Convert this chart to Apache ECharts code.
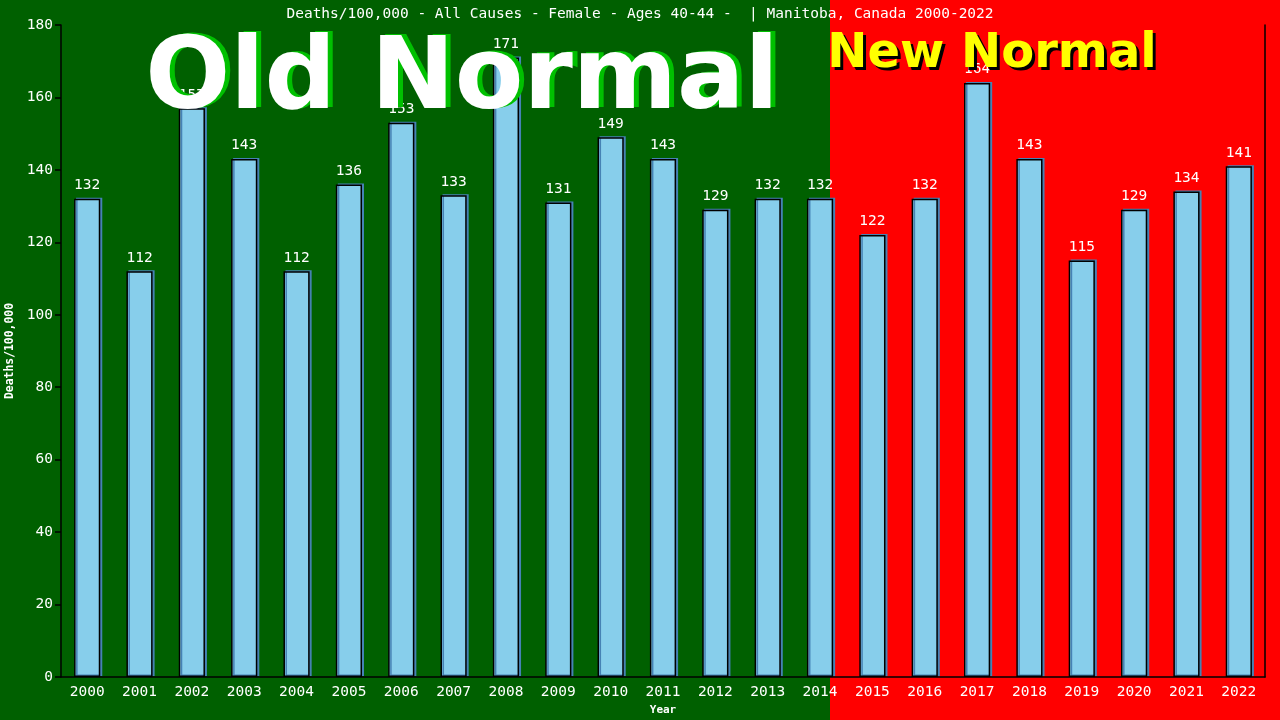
<!DOCTYPE html>
<html>
<head>
<meta charset="utf-8">
<script src="https://cdn.jsdelivr.net/npm/echarts@6/dist/echarts.min.js"></script>
<style>html,body{margin:0;padding:0;background:#006000;}#c{width:1280px;height:720px;}</style>
</head>
<body>
<div id="c"></div>
<script>
const years = ['2000','2001','2002','2003','2004','2005','2006','2007','2008','2009','2010','2011','2012','2013','2014','2015','2016','2017','2018','2019','2020','2021','2022'];
const deaths = [132,112,157,143,112,136,153,133,171,131,149,143,129,132,132,122,132,164,143,115,129,134,141];
const yTicks = {min:0, max:180, interval:20};
const titleText = 'Deaths/100,000 - All Causes - Female - Ages 40-44 -  | Manitoba, Canada 2000-2022';

const mono = 'DejaVu Sans Mono';
const bigFont = 'bold 100px "DejaVu Sans"';
const newFont = 'bold 48px "DejaVu Sans"';
const chart = echarts.init(document.getElementById('c'));
chart.setOption({
  backgroundColor: '#006000',
  animation: false,
  title: {
    text: titleText, left: 'center', top: 2,
    textStyle: {color:'#fff', fontFamily: mono, fontSize: 14.5, fontWeight: 'normal'}
  },
  grid: {left: 61, right: 15, top: 25, bottom: 43, outerBoundsMode: 'none', containLabel: false},
  xAxis: {
    type: 'category', data: years,
    name: 'Year', nameLocation: 'middle', nameGap: 27,
    nameTextStyle: {color:'#fff', fontFamily: mono, fontSize: 11, fontWeight: 'bold'},
    axisLine: {lineStyle: {color:'#000', width: 1.5}},
    axisTick: {show: false},
    axisLabel: {color:'#fff', fontFamily: mono, fontSize: 14.5, margin: 8}
  },
  yAxis: [{
    type: 'value', min: yTicks.min, max: yTicks.max, interval: yTicks.interval,
    name: 'Deaths/100,000', nameLocation: 'middle', nameGap: 42,
    nameTextStyle: {color:'#fff', fontFamily: mono, fontSize: 11.4, fontWeight: 'bold'},
    axisLine: {show: true, lineStyle: {color:'#000', width: 1.5}},
    axisTick: {show: true, length: 6, lineStyle: {color:'#000', width: 1.5}},
    axisLabel: {color:'#fff', fontFamily: mono, fontSize: 14.5, margin: 8},
    splitLine: {show: false}
  },{
    type: 'value', min: yTicks.min, max: yTicks.max, interval: yTicks.interval, position: 'right',
    axisLine: {show: true, lineStyle: {color:'#000', width: 1.5}},
    axisTick: {show: false}, axisLabel: {show: false}, splitLine: {show: false}
  }],
  graphic: [
    {type:'rect', z:-100, shape:{x:830, y:0, width:450, height:720}, style:{fill:'#ff0000'}, silent:true},
    {type:'text', z:100, x:467, y:81, silent:true, style:{
      text:'Old Normal', fill:'#00c000', font:bigFont, textAlign:'center', textVerticalAlign:'middle'}},
    {type:'text', z:101, x:462, y:82, silent:true, style:{
      text:'Old Normal', fill:'#ffffff', font:bigFont, textAlign:'center', textVerticalAlign:'middle'}},
    {type:'text', z:100, x:995, y:58, silent:true, style:{
      text:'New Normal', fill:'#000000', font:newFont, textAlign:'center', textVerticalAlign:'middle'}},
    {type:'text', z:101, x:992, y:55, silent:true, style:{
      text:'New Normal', fill:'#ffff00', font:newFont, textAlign:'center', textVerticalAlign:'middle'}}
  ],
  series: [{
    type: 'bar', data: deaths, barWidth: '50%',
    itemStyle: {color:'#87ceeb', borderColor:'#000', borderWidth:1.5,
      shadowColor:'#4682b4', shadowOffsetX:2, shadowOffsetY:-1, shadowBlur:0},
    label: {show: true, position: 'top', distance: 6, color:'#fff', fontFamily: mono, fontSize: 14.5}
  }]
});
</script>
</body>
</html>
